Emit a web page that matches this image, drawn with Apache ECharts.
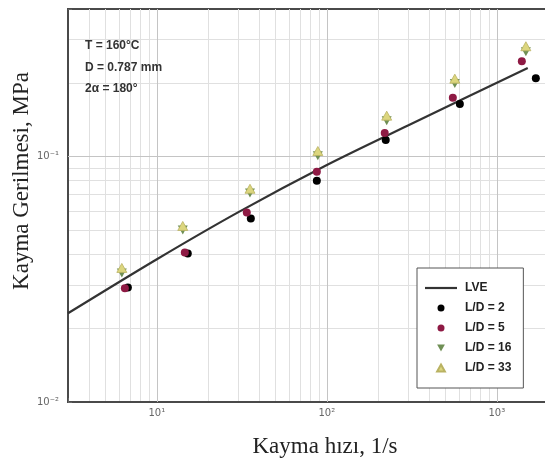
<!DOCTYPE html>
<html>
<head>
<meta charset="utf-8">
<script src="https://cdn.jsdelivr.net/npm/echarts@6/dist/echarts.min.js"></script>
<style>
  html, body { margin: 0; padding: 0; background: #fff; }
  #chart { width: 545px; height: 461px; }
</style>
</head>
<body>
<div id="chart"></div>
<script>
// LVE model curve
const lveX = [3, 10, 30, 100, 300, 1520];
const lveY = [0.023, 0.0382, 0.0593, 0.0925, 0.134, 0.2297];

// measured points (shear rate, shear stress)
const ld2X = [6.75, 15.2, 35.7, 87.3, 222, 606, 1696];
const ld2Y = [0.0293, 0.0403, 0.0560, 0.0798, 0.117, 0.164, 0.209];
const ld5X = [6.48, 14.6, 33.8, 87.3, 219, 551, 1403];
const ld5Y = [0.0291, 0.0407, 0.0592, 0.0869, 0.125, 0.174, 0.245];
const ld16X = [6.22, 14.2, 35.3, 88.5, 225, 566, 1482];
const ld16Y = [0.0336, 0.0502, 0.0712, 0.101, 0.140, 0.199, 0.268];
const ld33X = [6.22, 14.2, 35.3, 88.5, 225, 566, 1482];
const ld33Y = [0.0352, 0.0522, 0.0740, 0.1055, 0.147, 0.208, 0.282];

// tick labels
const xTickValues = [10, 100, 1000];
const xTickLabels = ['10¹', '10²', '10³'];
const yTickValues = [0.01, 0.1];
const yTickLabels = ['10⁻²', '10⁻¹'];

// minor grid positions
const xMinorGrid = [4, 5, 6, 7, 8, 9, 20, 30, 40, 50, 60, 70, 80, 90, 200, 300, 400, 500, 600, 700, 800, 900];
const yMinorGrid = [0.02, 0.03, 0.04, 0.05, 0.06, 0.07, 0.08, 0.09, 0.2, 0.3];

const zip = (xs, ys) => xs.map((x, i) => [x, ys[i]]);
const pickLabel = (v, values, labels) => {
  const i = values.findIndex(t => Math.abs(Math.log10(v) - Math.log10(t)) < 1e-6);
  return i >= 0 ? labels[i] : '';
};

const chart = echarts.init(document.getElementById('chart'));

const gridLine = (color) => ({
  silent: true, animation: false,
  symbol: ['none', 'none'],
  label: { show: false },
  lineStyle: { color: color, width: 1, type: 'solid' },
  emphasis: { disabled: true }
});

const option = {
  animation: false,
  grid: {
    left: 68, top: 9, right: -3, bottom: 59,
    outerBoundsMode: 'none',
    show: true, borderColor: '#4a4a4a', borderWidth: 2
  },
  xAxis: {
    type: 'log',
    min: 3, max: 2000,
    axisLine: { show: true, lineStyle: { color: '#4a4a4a', width: 2 } },
    axisTick: { show: true, inside: true, length: 4, lineStyle: { color: '#666' } },
    axisLabel: {
      margin: 6, fontSize: 10, color: '#666', fontFamily: 'DejaVu Sans',
      formatter: v => pickLabel(v, xTickValues, xTickLabels)
    },
    splitLine: { show: false }
  },
  yAxis: {
    type: 'log',
    min: 0.01, max: 0.4,
    axisLine: { show: true, lineStyle: { color: '#4a4a4a', width: 2 } },
    axisTick: { show: true, inside: true, length: 4, lineStyle: { color: '#666' } },
    axisLabel: {
      margin: 9, fontSize: 10, color: '#666', fontFamily: 'DejaVu Sans',
      formatter: v => pickLabel(v, yTickValues, yTickLabels)
    },
    splitLine: { show: false }
  },
  legend: {
    orient: 'vertical',
    left: 417, top: 268,
    itemWidth: 32, itemHeight: 7, itemGap: 6,
    padding: [13, 12, 13, 8],
    borderColor: '#555', borderWidth: 1, backgroundColor: '#fff',
    textStyle: {
      fontFamily: 'Liberation Sans', fontWeight: 'bold', fontSize: 12,
      color: '#222', lineHeight: 14, padding: [0, 0, 0, 3]
    },
    data: [
      { name: 'LVE', icon: 'path://M0,0h32v2.2h-32z' },
      { name: 'L/D = 2' },
      { name: 'L/D = 5' },
      { name: 'L/D = 16' },
      { name: 'L/D = 33' }
    ]
  },
  graphic: [
    {
      type: 'text', left: 85, top: 35, z: 10,
      style: {
        text: 'T = 160°C\nD = 0.787 mm\n2α = 180°',
        font: 'bold 12px "Liberation Sans"', fill: '#333', lineHeight: 21.5
      }
    },
    {
      type: 'text', x: 325, y: 447, z: 10,
      style: {
        text: 'Kayma hızı, 1/s', font: '23px "Liberation Serif"',
        fill: '#222', align: 'center', verticalAlign: 'middle'
      }
    },
    {
      type: 'text', x: 22, y: 181, rotation: Math.PI / 2, z: 10,
      style: {
        text: 'Kayma Gerilmesi, MPa', font: '23px "Liberation Serif"',
        fill: '#222', align: 'center', verticalAlign: 'middle'
      }
    }
  ],
  series: [
    {
      // background grid: minor lines
      name: 'minorGrid', type: 'line', data: [], z: 0,
      markLine: Object.assign(gridLine('#e0e0e0'), {
        z: 0,
        data: [
          ...xMinorGrid.map(v => ({ xAxis: v })),
          ...yMinorGrid.map(v => ({ yAxis: v }))
        ]
      })
    },
    {
      // background grid: decade lines
      name: 'majorGrid', type: 'line', data: [], z: 0,
      markLine: Object.assign(gridLine('#c4c4c4'), {
        z: 1,
        data: [
          ...xTickValues.map(v => ({ xAxis: v })),
          ...yTickValues.slice(1).map(v => ({ yAxis: v }))
        ]
      })
    },
    {
      name: 'LVE', type: 'line', z: 2,
      data: zip(lveX, lveY),
      smooth: 0.3, symbol: 'none', showSymbol: false,
      lineStyle: { color: '#333', width: 2.2 },
      itemStyle: { color: '#333' }
    },
    {
      name: 'L/D = 2', type: 'scatter', z: 3,
      data: zip(ld2X, ld2Y),
      symbol: 'circle', symbolSize: 8,
      itemStyle: { color: '#000', opacity: 1 }
    },
    {
      name: 'L/D = 5', type: 'scatter', z: 4,
      data: zip(ld5X, ld5Y),
      symbol: 'circle', symbolSize: 8,
      itemStyle: { color: '#8e1a44', opacity: 1 }
    },
    {
      name: 'L/D = 16', type: 'scatter', z: 5,
      data: zip(ld16X, ld16Y),
      symbol: 'path://M0,0L10,0L5,9Z', symbolSize: [10, 9],
      itemStyle: { color: '#6f8f55', opacity: 1 }
    },
    {
      name: 'L/D = 33', type: 'scatter', z: 6,
      data: zip(ld33X, ld33Y),
      symbol: 'path://M5,0L10,9L0,9Z', symbolSize: [10, 9],
      itemStyle: { color: '#dcd67e', borderColor: '#b9b262', borderWidth: 0.8, opacity: 1 }
    }
  ]
};

chart.setOption(option);
</script>
</body>
</html>
